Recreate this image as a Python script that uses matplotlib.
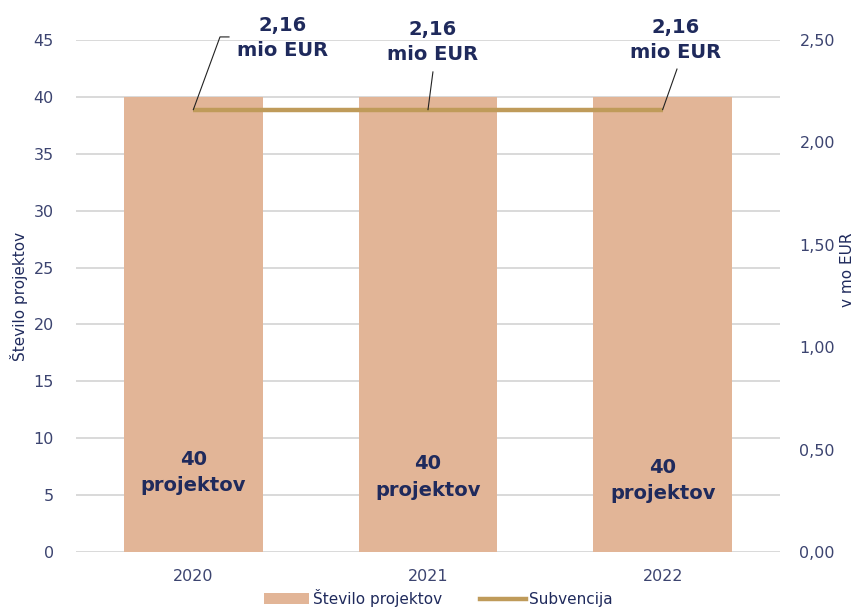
import matplotlib
matplotlib.use("Agg")
import matplotlib.pyplot as plt
from matplotlib.lines import Line2D
from matplotlib.patches import Patch

years = ["2020", "2021", "2022"]
projects = [40, 40, 40]
subsidy = [2.16, 2.16, 2.16]
left_ticks = [0, 5, 10, 15, 20, 25, 30, 35, 40, 45]
right_ticks = [0.0, 0.5, 1.0, 1.5, 2.0, 2.5]

bar_color = "#E2B597"
line_color = "#BF9B5A"
text_dark = "#1F2A5C"
tick_color = "#3C4470"
grid_color = "#D9D9D9"

fig = plt.figure(figsize=(8.58, 6.08), dpi=100)
ax = fig.add_axes([76/858, 1-552/608, (780-76)/858, (552-40)/608])
ax2 = ax.twinx()

x = list(range(len(years)))
ax.bar(x, projects, width=0.59, color=bar_color, zorder=2)
ax.set_xlim(-0.5, len(years)-0.5)
ax.set_ylim(0, 45)
ax.set_yticks(left_ticks)
ax.set_yticklabels([str(t) for t in left_ticks])
ax.yaxis.grid(True, color=grid_color, lw=1.4, zorder=0)
ax.set_axisbelow(True)
ax.set_xticks(x)
ax.set_xticklabels(years)
ax.tick_params(axis="both", length=0, colors=tick_color, labelsize=11.5)
ax.tick_params(axis="y", pad=16)
ax.tick_params(axis="x", pad=12)
ax.set_ylabel("Število projektov", color=text_dark, fontsize=11, labelpad=4)

ax2.plot(x, subsidy, color=line_color, lw=3.2, solid_capstyle="butt", zorder=3)
ax2.set_ylim(0, 2.5)
ax2.set_yticks(right_ticks)
ax2.set_yticklabels([f"{t:.2f}".replace(".", ",") for t in right_ticks])
ax2.tick_params(axis="y", length=0, colors=tick_color, labelsize=11.5, pad=14)
ax2.set_ylabel("v mo EUR", color=text_dark, fontsize=11, rotation=90, va="center", ha="center")
ax2.yaxis.set_label_coords((848-76)/704, (552-270)/512)

for a in (ax, ax2):
    for s in a.spines.values():
        s.set_visible(False)

# bar value labels
bar_label_y = [7.0, 6.6, 6.3]
for i, v in enumerate(projects):
    ax.text(x[i], bar_label_y[i], f"{v}\nprojektov", ha="center", va="center",
            fontsize=14, fontweight="bold", color=text_dark, linespacing=1.5, zorder=4)

# subsidy labels with leader lines
label_pos = [(0.382, 2.51), (1.021, 2.49), (2.057, 2.50)]
leader_end = [(0.1136, 2.515), (1.021, 2.344), (2.061, 2.358)]
for i, v in enumerate(subsidy):
    lx, ly = label_pos[i]
    ax2.text(lx, ly, f"{v:.2f}".replace(".", ",") + "\nmio EUR", ha="center", va="center",
             fontsize=14, fontweight="bold", color=text_dark, linespacing=1.45, clip_on=False)
    ex, ey = leader_end[i]
    xs = [x[i], ex]
    ys = [v, ey]
    if i == 0:
        xs.append(0.152)
        ys.append(ey)
    ax2.plot(xs, ys, color="#222222", lw=0.8, clip_on=False, zorder=5)

handles = [Patch(facecolor=bar_color, edgecolor="none"),
           Line2D([0], [0], color=line_color, lw=3.2)]
fig.legend(handles, ["Število projektov", "Subvencija"], loc="center",
           bbox_to_anchor=(438/858, 1-598/608), ncol=2, frameon=False,
           fontsize=11, labelcolor=text_dark, handlelength=3.0, handletextpad=0.2,
           columnspacing=2.5)

fig.savefig("out.png", dpi=100)
